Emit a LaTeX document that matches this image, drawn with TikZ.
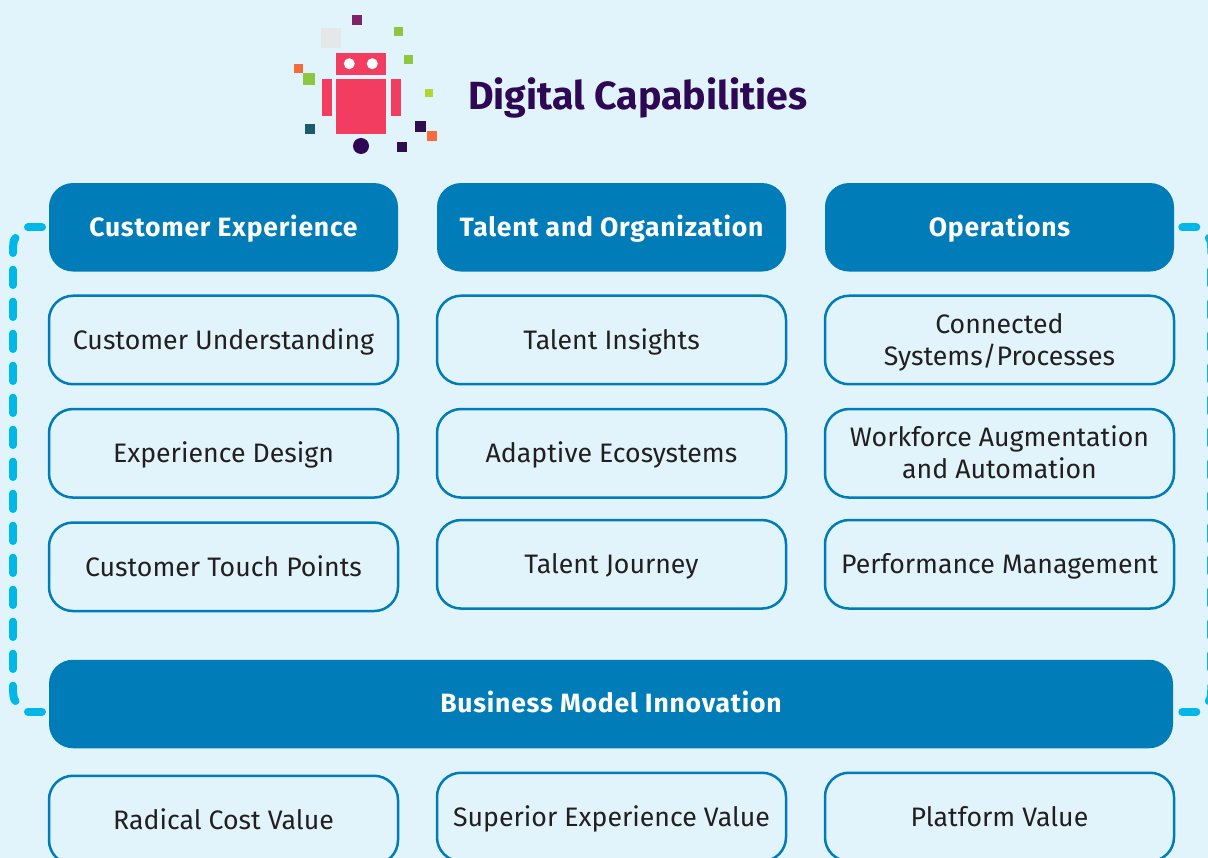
\documentclass[tikz,border=0pt]{standalone}
\usepackage{fontspec}
\setmainfont{Fira Sans}
\definecolor{bgc}{HTML}{E1F4FB}
\definecolor{blu}{HTML}{007CB8}
\definecolor{cyn}{HTML}{00B7E8}
\definecolor{rob}{HTML}{F23D60}
\definecolor{grn}{HTML}{8DC63F}
\definecolor{org}{HTML}{F56B3C}
\definecolor{drk}{HTML}{2E0F4D}
\definecolor{ttl}{HTML}{2E0854}
\definecolor{prp}{HTML}{7F2369}
\definecolor{gry}{HTML}{E6E7E8}
\definecolor{lim}{HTML}{B5D334}
\definecolor{tea}{HTML}{1A5C6E}
\definecolor{txt}{HTML}{231F20}
\tikzset{
 base/.style={rounded corners=24pt,minimum width=349pt,minimum height=88.5pt,inner sep=0pt,align=center,font=\fontsize{26.7}{32}\selectfont,text=txt},
 outl/.style={base,draw=blu,line width=2.5pt,fill=bgc},
 one/.style={text height=25pt,text depth=6pt},
 head/.style={base,one,fill=blu,text=white,font=\fontsize{26.5}{32}\selectfont\bfseries\addfontfeature{LetterSpace=3}},
 brk/.style={draw=cyn,line width=8pt,line cap=round}
}
\newcommand{\sqr}[5]{\fill[#5] (#1,#2) rectangle (#3,#4);}
\newcommand{\tl}{\rule{0pt}{25pt}}
\newcommand{\bl}{\rule[-6pt]{0pt}{6pt}}
\begin{document}
\begin{tikzpicture}[x=1pt,y=-1pt]
\useasboundingbox (0,0) rectangle (1208,858);
\clip (0,0) rectangle (1208,858);
\fill[bgc] (0,0) rectangle (1208,858);
% robot
\sqr{352}{15}{362}{25}{prp}
\sqr{321}{28}{341}{48}{gry}
\sqr{394}{27}{403}{36}{grn}
\sqr{404}{55}{413}{64}{grn}
\sqr{294}{64}{303}{73}{org}
\sqr{303}{73}{315}{85}{grn}
\sqr{336}{53}{386}{75}{rob}
\fill[white] (349.3,63.7) circle (5.5) (372.3,63.7) circle (5.5);
\sqr{336}{79}{386}{134}{rob}
\sqr{322}{79}{332}{116}{rob}
\sqr{391}{79}{401}{116}{rob}
\sqr{425}{89}{433}{97}{lim}
\sqr{415}{121}{426}{132}{drk}
\sqr{427}{131}{437}{141}{org}
\sqr{397}{142}{407}{152}{drk}
\sqr{305}{124}{315}{134}{tea}
\fill[ttl] (361,146) circle (8);
\node[anchor=west,inner sep=0pt,text=ttl,font=\fontsize{39.3}{44}\selectfont\bfseries] (title) at (468,98) {Digital Capabilities};
% headers
\node[head] (ce) at (223.5,227.3) {Customer Experience};
\node[head] (to) at (611.5,227.3) {Talent and Organization};
\node[head] (op) at (999.5,227.3) {Operations};
\node[outl,one] (a1) at (223.5,340) {Customer Understanding};
\node[outl,one] (b1) at (611.5,340) {Talent Insights};
\node[outl] (c1) at (999.5,340) {\tl Connected\\Systems/Processes\bl};
\node[outl,one] (a2) at (223.5,453.3) {Experience Design};
\node[outl,one] (b2) at (611.5,453.3) {Adaptive Ecosystems};
\node[outl] (c2) at (999.5,453.3) {\tl Workforce Augmentation\\and Automation\bl};
\node[outl,one] (a3) at (223.5,566.8) {Customer Touch Points};
\node[outl,one] (b3) at (611.5,564.3) {Talent Journey};
\node[outl,one] (c3) at (999.5,564.3) {Performance Management};
\node[head,minimum width=1124pt,text height=24pt,text depth=7pt] (bm) at (611,704) {Business Model Innovation};
\node[outl,one] (v1) at (223.5,820) {Radical Cost Value};
\node[outl,one] (v2) at (611.5,817) {Superior Experience Value};
\node[outl,one] (v3) at (999.5,817) {Platform Value};
% left bracket
\draw[brk] (42,227.5) -- (28,227.5);
\draw[brk] (15.5,238) .. controls (13.5,240) and (13,243) .. (13,253);
\foreach \k in {0,...,12} \draw[brk] (13,{269.7+32*\k}) -- (13,{285+32*\k});
\draw[brk] (13,685.7) .. controls (13,695) and (13.5,699) .. (15.5,701);
\draw[brk] (28,711.7) -- (42,711.7);
% right bracket
\draw[brk] (1182.3,227.5) -- (1196.3,227.5);
\draw[brk] (1208.8,238) .. controls (1210.8,240) and (1211.3,243) .. (1211.3,253);
\foreach \k in {0,...,12} \draw[brk] (1211.3,{269.7+32*\k}) -- (1211.3,{285+32*\k});
\draw[brk] (1211.3,685.7) .. controls (1211.3,695) and (1210.8,699) .. (1208.8,701);
\draw[brk] (1196.3,711.7) -- (1182.3,711.7);
\end{tikzpicture}
\end{document}
